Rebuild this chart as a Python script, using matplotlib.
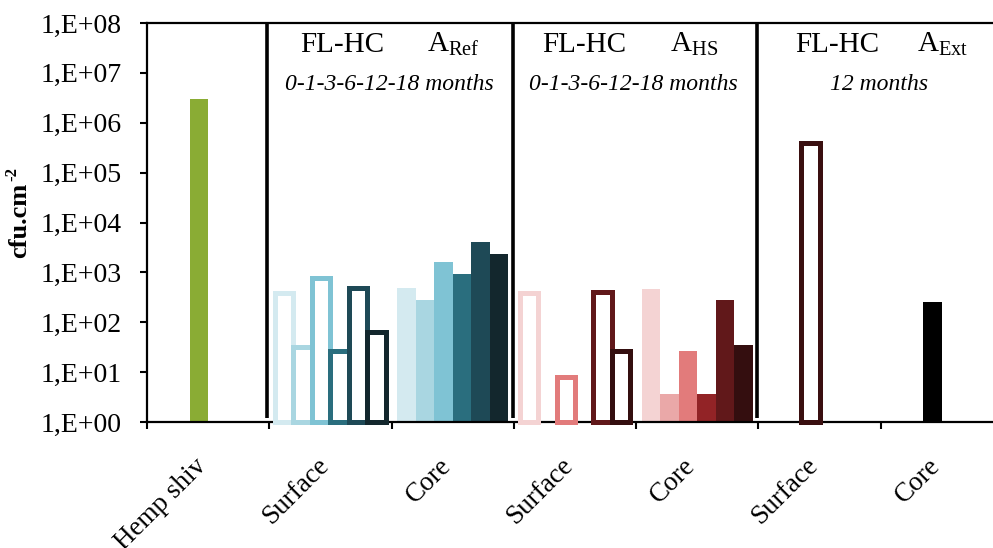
import numpy as np
import matplotlib
matplotlib.use("Agg")
from matplotlib import pyplot as plt

plt.rcParams["font.family"] = ["Liberation Serif", "DejaVu Serif"]
plt.rcParams["mathtext.fontset"] = "custom"
plt.rcParams["mathtext.rm"] = "Liberation Serif"
plt.rcParams["mathtext.it"] = "Liberation Serif:italic"
plt.rcParams["mathtext.bf"] = "Liberation Serif:bold"

nan = np.nan

categories = ["Hemp shiv", "Surface", "Core", "Surface", "Core", "Surface", "Core"]

# one value per sampling time (0-1-3-6-12-18 months), nan = no bar
hemp_shiv = [nan, nan, 2.96e6, nan, nan, nan]
ref_surface = [390, 32, 780, 27, 490, 65]
ref_core = [495, 283, 1590, 944, 4150, 2300]
hs_surface = [390, nan, 8, nan, 410, 27]
hs_core = [470, 3.7, 26, 3.7, 283, 35]
ext_surface = [nan, nan, 4.0e5, nan, nan, nan]
ext_core = [nan, nan, 250, nan, nan, nan]

ytick_labels = ["1,E+00", "1,E+01", "1,E+02", "1,E+03", "1,E+04",
                "1,E+05", "1,E+06", "1,E+07", "1,E+08"]

teal = ["#d4eaf0", "#a9d6e1", "#7fc3d4", "#2a6e7e", "#1e4956", "#13272d"]
reds = ["#f4d3d3", "#eaa8a8", "#e27b7b", "#922326", "#61181a", "#340e0f"]

groups = [
    (hemp_shiv, ["#8aac34"] * 6, False),
    (ref_surface, teal, True),
    (ref_core, teal, False),
    (hs_surface, reds, True),
    (hs_core, reds, False),
    (ext_surface, ["#3a0f10"] * 6, True),
    (ext_core, ["#000000"] * 6, False),
]

fig = plt.figure(figsize=(9.93, 5.48), dpi=100)
ax = fig.add_axes([147 / 993, 126 / 548, 856 / 993, 399 / 548])

w = 0.151
for i, (vals, cols, hollow) in enumerate(groups):
    for k, v in enumerate(vals):
        if np.isnan(v):
            continue
        x = i + 0.5 + (k - 2.5) * w
        if hollow:
            ax.bar(x, v - 1, bottom=1, width=w, facecolor="white",
                   edgecolor=cols[k], linewidth=3.6, clip_on=False, zorder=3)
        else:
            ax.bar(x, v - 1, bottom=1, width=w, color=cols[k], linewidth=0, zorder=2)

ax.set_yscale("log")
ax.set_ylim(1, 1e8)
ax.set_xlim(0, 7)
ax.set_yticks([10.0 ** p for p in range(9)], ytick_labels)
ax.yaxis.set_minor_locator(matplotlib.ticker.NullLocator())
ax.tick_params(axis="y", labelsize=20, length=5, width=1.5, pad=13)

ax.set_xticks(range(8))
ax.set_xticklabels([])
ax.tick_params(axis="x", length=5, width=1.5)

for s in ["left", "bottom", "top", "right"]:
    ax.spines[s].set_linewidth(1.6)

# separators between sample groups
ax.vlines([0.985, 2.995, 4.99], 1.2, 1e8, color="black", linewidth=2.6, zorder=4)

for i, name in enumerate(categories):
    ax.annotate(name, xy=(i + 0.5, 0), xycoords=("data", "axes fraction"),
                xytext=(-4, -29), textcoords="offset points", ha="right",
                va="center", rotation=45, rotation_mode="anchor", fontsize=19.5)

# group headers
headers = [
    (1.25, 2.29, 1.98, r"$\mathrm{A}_{\mathrm{Ref}}$", "0-1-3-6-12-18 months"),
    (3.23, 4.28, 3.98, r"$\mathrm{A}_{\mathrm{HS}}$", "0-1-3-6-12-18 months"),
    (5.30, 6.30, 5.99, r"$\mathrm{A}_{\mathrm{Ext}}$", "12 months"),
]
for x_fl, x_a, x_mid, sub, months in headers:
    ax.text(x_fl, 2.6e7, "FL-HC", fontsize=21, ha="left", va="baseline")
    ax.text(x_a, 2.6e7, sub, fontsize=21, ha="left", va="baseline")
    ax.text(x_mid, 4.6e6, months, fontsize=17, style="italic",
            ha="center", va="baseline")

fig.text(20 / 993, 1 - 258 / 548, "cfu.cm", rotation=90,
         fontsize=19, fontweight="bold", ha="center", va="bottom")
fig.text(12 / 993, 1 - 181 / 548, "-2", rotation=90,
         fontsize=12, fontweight="bold", ha="center", va="bottom")

fig.savefig("out.png", dpi=100)
